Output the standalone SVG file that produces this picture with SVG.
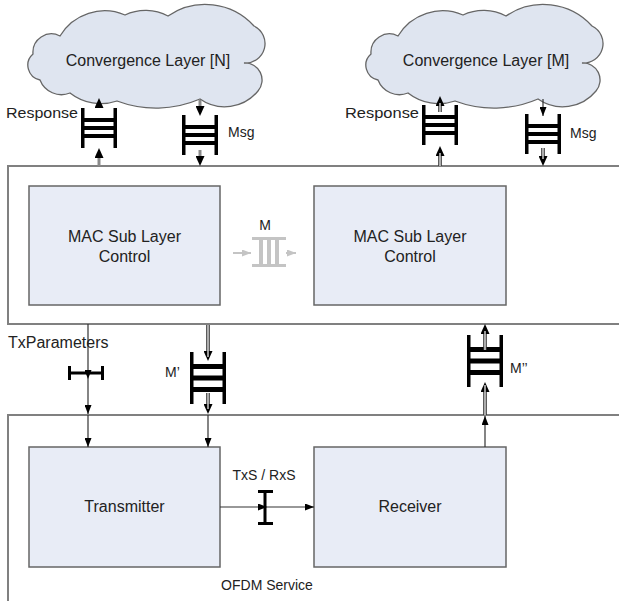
<svg xmlns="http://www.w3.org/2000/svg" xmlns:xlink="http://www.w3.org/1999/xlink" width="619" height="601" viewBox="0 0 619 601">
<style>
text{font-family:"Liberation Sans",Arial,sans-serif;fill:#222}
.t16{font-size:16px}
.t14{font-size:14px}
.mid{text-anchor:middle}
.box{fill:#e8ecf6;stroke:#666;stroke-width:1.5}
.cloud{fill:#dfe5f0;stroke:#666;stroke-width:1.3}
.frame{stroke:#808080;stroke-width:2;fill:none}
.thin{stroke:#333;stroke-width:1.2;fill:none}
.gl{stroke:#8a8a8a;stroke-width:3;fill:none}
.dlo{stroke:#333;stroke-width:3.6;fill:none}
.dli{stroke:#fff;stroke-width:1.2;fill:none}
.grey{stroke:#c4c4c4;stroke-width:2;fill:none}
.blk{fill:#000}
</style>
<defs>
<marker id="ah" viewBox="0 0 9 7" refX="9" refY="3.5" markerWidth="9" markerHeight="7" orient="auto" markerUnits="userSpaceOnUse"><path d="M0,0 L9,3.5 L0,7 z" fill="#000"/></marker>
<marker id="ahb" viewBox="0 0 10 9" refX="5" refY="4.5" markerWidth="10" markerHeight="9" orient="auto" markerUnits="userSpaceOnUse"><path d="M0,0 L10,4.5 L0,9 z" fill="#000"/></marker>
<marker id="ahg" viewBox="0 0 9 7" refX="9" refY="3.5" markerWidth="9" markerHeight="7" orient="auto" markerUnits="userSpaceOnUse"><path d="M0,0 L9,3.5 L0,7 z" fill="#c4c4c4"/></marker>
<g id="qs">
<rect x="-18" y="-20" width="3.5" height="40" class="blk"/>
<rect x="14.5" y="-20" width="3.5" height="40" class="blk"/>
<rect x="-18" y="-10" width="36" height="4" class="blk"/>
<rect x="-18" y="-2" width="36" height="4" class="blk"/>
<rect x="-18" y="6" width="36" height="4" class="blk"/>
</g>
<g id="qt">
<rect x="-18" y="-26" width="3.5" height="52" class="blk"/>
<rect x="14.5" y="-26" width="3.5" height="52" class="blk"/>
<rect x="-18" y="-14" width="36" height="5" class="blk"/>
<rect x="-18" y="-2.5" width="36" height="5" class="blk"/>
<rect x="-18" y="9" width="36" height="5" class="blk"/>
</g>
<path id="cloudShape" d="M40,80 A15,15 0 0 1 33,54 A18.5,18.5 0 0 1 60,36 A52,52 0 0 1 125,15 A48,48 0 0 1 168,16 A66,66 0 0 1 254,26 A19.5,19.5 0 0 1 244,63 A17,17 0 0 1 258,91 A43,43 0 0 1 200,99 A111,111 0 0 1 117,101 A50,50 0 0 1 70,93 A23,23 0 0 1 40,80 Z"/>
</defs>

<!-- frames -->
<g id="frames">
<path class="frame" d="M619,166 H8 V324 H619"/>
<path class="frame" d="M619,415 H8 V601"/>
</g>

<g id="cloudN">
<use xlink:href="#cloudShape" class="cloud"/>
<text class="t16 mid" x="148" y="66">Convergence Layer [N]</text>
</g>
<g id="cloudM">
<use xlink:href="#cloudShape" class="cloud" transform="translate(338,0)"/>
<text class="t16 mid" x="486" y="66">Convergence Layer [M]</text>
</g>

<g id="macN">
<rect class="box" x="29" y="186" width="191" height="119"/>
<text class="t16 mid" x="124.5" y="242">MAC Sub Layer</text>
<text class="t16 mid" x="124.5" y="262">Control</text>
</g>
<g id="macM">
<rect class="box" x="314" y="186" width="192" height="119"/>
<text class="t16 mid" x="410" y="242">MAC Sub Layer</text>
<text class="t16 mid" x="410" y="262">Control</text>
</g>
<g id="transmitter">
<rect class="box" x="29" y="447" width="191" height="120"/>
<text class="t16 mid" x="124.5" y="512">Transmitter</text>
</g>
<g id="receiver">
<rect class="box" x="314" y="447" width="192" height="120"/>
<text class="t16 mid" x="410" y="512">Receiver</text>
</g>

<g id="connectors">
<!-- Response N -->
<line class="gl" x1="99" y1="166" x2="99" y2="153" marker-end="url(#ahb)"/>
<use xlink:href="#qs" x="99" y="128"/>
<line class="gl" x1="99" y1="108" x2="99" y2="103" marker-end="url(#ahb)"/>
<!-- Msg N -->
<line class="gl" x1="200" y1="100" x2="200" y2="111" marker-end="url(#ahb)"/>
<use xlink:href="#qs" x="200" y="135"/>
<line class="gl" x1="200" y1="150" x2="200" y2="161" marker-end="url(#ahb)"/>
<!-- Response M -->
<line class="dlo" x1="440" y1="166" x2="440" y2="151" marker-end="url(#ahb)"/>
<line class="dli" x1="440" y1="166" x2="440" y2="153"/>
<use xlink:href="#qs" x="440" y="125"/>
<line class="dlo" x1="440" y1="112" x2="440" y2="101" marker-end="url(#ahb)"/>
<line class="dli" x1="440" y1="112" x2="440" y2="103"/>
<!-- Msg M -->
<line class="thin" x1="543" y1="99" x2="543" y2="116" marker-end="url(#ah)"/>
<use xlink:href="#qs" x="543" y="134"/>
<line class="dlo" x1="543" y1="148" x2="543" y2="161" marker-end="url(#ahb)"/>
<line class="dli" x1="543" y1="148" x2="543" y2="159"/>

<!-- M between MAC -->
<line class="grey" x1="233" y1="253" x2="251" y2="253" marker-end="url(#ahg)"/>
<rect x="252" y="237" width="34" height="3" fill="#c4c4c4"/>
<rect x="252" y="264" width="34" height="3" fill="#c4c4c4"/>
<rect x="259" y="237" width="4" height="30" fill="#c4c4c4"/>
<rect x="267" y="237" width="4" height="30" fill="#c4c4c4"/>
<rect x="275" y="237" width="4" height="30" fill="#c4c4c4"/>
<line class="grey" x1="286" y1="253" x2="296" y2="253" marker-end="url(#ahg)"/>

<!-- TxParameters -->
<line class="thin" x1="88" y1="324" x2="88" y2="379" marker-end="url(#ah)"/>
<rect x="68" y="371.5" width="36" height="3" class="blk"/>
<rect x="68" y="366" width="3" height="14" class="blk"/>
<rect x="101" y="366" width="3" height="14" class="blk"/>
<line class="thin" x1="88" y1="379" x2="88" y2="414" marker-end="url(#ah)"/>
<line class="thin" x1="88" y1="415" x2="88" y2="447" marker-end="url(#ah)"/>

<!-- M' -->
<line class="dlo" x1="208" y1="325" x2="208" y2="356" marker-end="url(#ahb)"/>
<line class="dli" x1="208" y1="325" x2="208" y2="357"/>
<use xlink:href="#qt" x="208" y="378"/>
<line class="dlo" x1="208" y1="393" x2="208" y2="409" marker-end="url(#ahb)"/>
<line class="dli" x1="208" y1="393" x2="208" y2="409"/>
<line class="thin" x1="208" y1="415" x2="208" y2="447" marker-end="url(#ah)"/>

<!-- M'' -->
<line class="thin" x1="485" y1="447" x2="485" y2="416" marker-end="url(#ah)"/>
<line class="dlo" x1="485" y1="415" x2="485" y2="387" marker-end="url(#ahb)"/>
<line class="dli" x1="485" y1="415" x2="485" y2="385"/>
<use xlink:href="#qt" x="485" y="361"/>
<line class="dlo" x1="485" y1="350" x2="485" y2="329" marker-end="url(#ahb)"/>
<line class="dli" x1="485" y1="350" x2="485" y2="331"/>

<!-- TxS / RxS -->
<line class="thin" x1="220" y1="507" x2="267" y2="507" marker-end="url(#ah)"/>
<line class="thin" x1="267" y1="507" x2="314" y2="507" marker-end="url(#ah)"/>
<rect x="263.5" y="491" width="3" height="33" class="blk"/>
<rect x="258" y="490" width="15" height="3" class="blk"/>
<rect x="258" y="522" width="15" height="3" class="blk"/>
</g>

<g id="labels">
<text class="t14" x="6" y="118" textLength="72" lengthAdjust="spacingAndGlyphs" style="font-size:15px">Response</text>
<text class="t14" x="345" y="118" textLength="74" lengthAdjust="spacingAndGlyphs" style="font-size:15px">Response</text>
<text class="t14" x="228" y="137">Msg</text>
<text class="t14" x="570" y="138">Msg</text>
<text class="t14 mid" x="265" y="230">M</text>
<text class="t16" x="8" y="348">TxParameters</text>
<text class="t14" x="165" y="377">M’</text>
<text class="t14" x="510" y="373">M’’</text>
<text class="t14 mid" x="264" y="480">TxS / RxS</text>
<text class="t14 mid" x="267" y="590">OFDM Service</text>
</g>
</svg>
